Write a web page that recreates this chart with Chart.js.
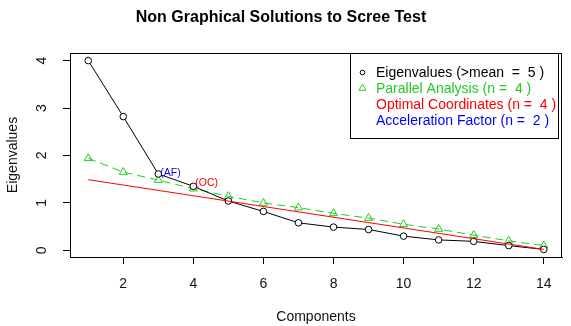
<!DOCTYPE html>
<html>
<head>
<meta charset="utf-8">
<script src="https://cdn.jsdelivr.net/npm/chart.js@4.4.1/dist/chart.umd.min.js"></script>
<style>
  html, body { margin: 0; padding: 0; background: #fff; }
  #wrap { width: 571px; height: 326px; }
</style>
</head>
<body>
<div id="wrap"><canvas id="chart" width="571" height="326"></canvas></div>
<script>
// values
const components = [1, 2, 3, 4, 5, 6, 7, 8, 9, 10, 11, 12, 13, 14];
const eigenvalues = [4.00, 2.82, 1.61, 1.35, 1.04, 0.82, 0.58, 0.49, 0.44, 0.30, 0.22, 0.19, 0.10, 0.02];
const parallelAnalysis = [1.94, 1.65, 1.48, 1.30, 1.14, 1.00, 0.90, 0.78, 0.68, 0.55, 0.45, 0.32, 0.20, 0.10];
const ocComponents = [1, 14];
const optimalCoordinates = [1.49, 0.02];

const xTicks = [2, 4, 6, 8, 10, 12, 14];
const yTicks = [0, 1, 2, 3, 4];

const legendLabels = [
  'Eigenvalues (>mean  =  5 )',
  'Parallel Analysis (n =  4 )',
  'Optimal Coordinates (n =  4 )',
  'Acceleration Factor (n =  2 )'
];
const legendColors = ['#000000', '#22cc22', '#ff0000', '#0000ff'];
const legendSymbols = ['circle', 'triangle', null, null];

// text marks next to the points
const annotations = [
  {text: '(AF)', x: 3, y: 1.63, color: '#0000ff'},
  {text: '(OC)', x: 4, y: 1.41, color: '#ff0000'}
];

const FONT = '"Liberation Sans", Arial, Helvetica, sans-serif';

function toPoints(xs, ys) {
  return xs.map((x, i) => ({x: x, y: ys[i]}));
}

const rPlotPlugin = {
  id: 'rPlot',
  beforeDraw(chart) {
    const ctx = chart.ctx;
    ctx.save();
    ctx.fillStyle = '#fff';
    ctx.fillRect(0, 0, chart.width, chart.height);
    ctx.restore();
  },
  afterDraw(chart) {
    const ctx = chart.ctx;
    const area = chart.chartArea;
    const xs = chart.scales.x;
    const ys = chart.scales.y;

    ctx.save();
    // box around the plot region
    ctx.strokeStyle = '#000';
    ctx.lineWidth = 1;
    ctx.strokeRect(Math.round(area.left) + 0.5, Math.round(area.top) + 0.5,
      Math.round(area.right - area.left) - 1, Math.round(area.bottom - area.top));

    // (AF) / (OC) labels
    ctx.font = '10.5px ' + FONT;
    ctx.textBaseline = 'middle';
    ctx.textAlign = 'left';
    annotations.forEach(a => {
      ctx.fillStyle = a.color;
      ctx.fillText(a.text, xs.getPixelForValue(a.x) + 2, ys.getPixelForValue(a.y));
    });

    // legend box, top right
    const boxRight = area.right - 4.5;
    const boxLeft = boxRight - 208;
    const boxTop = area.top;
    const boxH = 85;
    ctx.strokeStyle = '#000';
    ctx.strokeRect(Math.round(boxLeft) + 0.5, Math.round(boxTop) + 0.5, 208, boxH);

    ctx.font = '14px ' + FONT;
    legendLabels.forEach((label, i) => {
      const cy = boxTop + 20.5 + i * 15.8;
      const sx = boxLeft + 13;
      ctx.strokeStyle = legendColors[i];
      ctx.lineWidth = 1;
      if (legendSymbols[i] === 'circle') {
        ctx.beginPath();
        ctx.arc(sx, cy - 1, 2.3, 0, Math.PI * 2);
        ctx.stroke();
      } else if (legendSymbols[i] === 'triangle') {
        ctx.beginPath();
        ctx.moveTo(sx, cy - 5);
        ctx.lineTo(sx + 3.5, cy + 1);
        ctx.lineTo(sx - 3.5, cy + 1);
        ctx.closePath();
        ctx.stroke();
      }
      ctx.fillStyle = legendColors[i];
      ctx.fillText(label, boxLeft + 26.5, cy);
    });
    ctx.restore();
  }
};

const axisFont = {family: FONT, size: 14};

new Chart(document.getElementById('chart'), {
  type: 'line',
  data: {
    datasets: [
      {
        label: 'Eigenvalues',
        data: toPoints(components, eigenvalues),
        borderColor: '#000',
        borderWidth: 1,
        pointStyle: 'circle',
        pointRadius: 3.3,
        pointBorderColor: '#000',
        pointBackgroundColor: '#fff',
        pointBorderWidth: 1,
        order: 2
      },
      {
        label: 'Parallel Analysis',
        data: toPoints(components, parallelAnalysis),
        borderColor: '#22cc22',
        borderWidth: 1,
        borderDash: [8, 5],
        pointStyle: 'triangle',
        pointRadius: 4.6,
        pointBorderColor: '#22cc22',
        pointBackgroundColor: 'rgba(255,255,255,0)',
        pointBorderWidth: 1,
        order: 3
      },
      {
        label: 'Optimal Coordinates',
        data: toPoints(ocComponents, optimalCoordinates),
        borderColor: '#ff0000',
        borderWidth: 1,
        pointRadius: 0,
        order: 1
      }
    ]
  },
  options: {
    responsive: false,
    animation: false,
    events: [],
    layout: {padding: {left: 0, right: 9, top: 0, bottom: 0}},
    plugins: {
      legend: {display: false},
      tooltip: {enabled: false},
      title: {
        display: true,
        text: 'Non Graphical Solutions to Scree Test',
        color: '#000',
        font: {family: FONT, size: 16, weight: 'bold'},
        padding: {top: 8, bottom: 25.8}
      }
    },
    scales: {
      x: {
        type: 'linear',
        min: 0.48,
        max: 14.52,
        afterBuildTicks: s => { s.ticks = xTicks.map(v => ({value: v})); },
        afterFit: s => { s.height = 69; },
        grid: {drawOnChartArea: false, drawTicks: true, tickLength: 7, color: '#000'},
        border: {display: true, color: '#000'},
        ticks: {color: '#111', font: axisFont, padding: 12, maxRotation: 0, minRotation: 0},
        title: {display: true, text: 'Components', color: '#111', font: axisFont, padding: 0}
      },
      y: {
        type: 'linear',
        min: -0.14,
        max: 4.16,
        afterBuildTicks: s => { s.ticks = yTicks.map(v => ({value: v})); },
        afterFit: s => { s.width = 70; },
        grid: {drawOnChartArea: false, drawTicks: true, tickLength: 7, color: '#000'},
        border: {display: true, color: '#000'},
        ticks: {color: '#111', font: axisFont, padding: 17, crossAlign: 'center', minRotation: 90, maxRotation: 90},
        title: {display: true, text: 'Eigenvalues', color: '#111', font: axisFont, padding: {top: 4.6, bottom: 0}}
      }
    }
  },
  plugins: [rPlotPlugin]
});
</script>
</body>
</html>
